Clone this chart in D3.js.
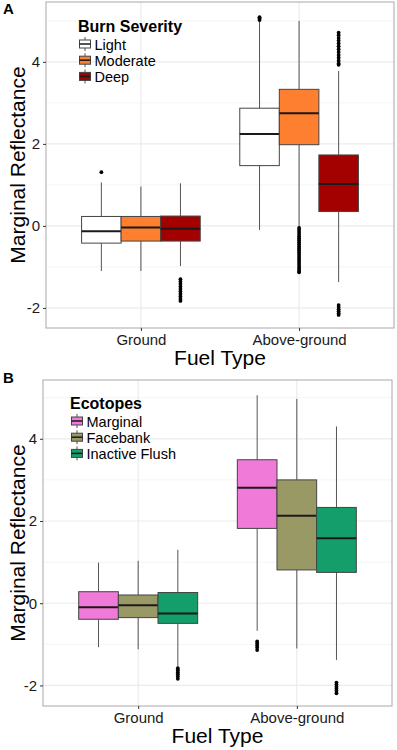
<!DOCTYPE html>
<html>
<head>
<meta charset="utf-8">
<script src="https://cdn.jsdelivr.net/npm/d3@7"></script>
<style>
  body { margin: 0; background: #fff; }
  svg { font-family: "Liberation Sans", Arial, Helvetica, sans-serif; display: block; }
</style>
</head>
<body>
<div id="chart"></div>
<script>
// Shared categories and axis ticks
const fuelTypes = ['Ground', 'Above-ground'];
const yTicks = [-2, 0, 2, 4];
const yMinor = [-1, 1, 3, 5];

// Panel A: burn severity
const burnSeverity = ['Light', 'Moderate', 'Deep'];
const burnColors = ['#ffffff', '#fd7f2f', '#a30000'];
// rows = fuel type, columns = severity
const burnLow    = [[-1.10, -1.10, -0.98], [-0.10, -0.02, -1.37]];
const burnQ1     = [[-0.42, -0.37, -0.37], [1.47, 1.98, 0.35]];
const burnMedian = [[-0.13, -0.04, -0.07], [2.24, 2.75, 1.02]];
const burnQ3     = [[0.23, 0.23, 0.24], [2.87, 3.33, 1.73]];
const burnHigh   = [[1.06, 0.96, 1.04], [4.98, 5.00, 3.78]];
const burnOutliers = [
  [[1.31], [], [-1.30, -1.36, -1.42, -1.48, -1.54, -1.60, -1.66, -1.72, -1.78, -1.83]],
  [[5.02, 5.06, 5.09],
   [-0.05, -0.10, -0.15, -0.20, -0.25, -0.30, -0.35, -0.40, -0.45, -0.50, -0.55, -0.60,
    -0.65, -0.70, -0.75, -0.80, -0.85, -0.90, -0.95, -1.00, -1.05, -1.10, -1.13],
   [4.71, 4.65, 4.58, 4.52, 4.45, 4.38, 4.31, 4.24, 4.17, 4.10, 4.03, 3.96, 3.93,
    -1.93, -1.98, -2.03, -2.08, -2.13, -2.17]]
];

// Panel B: ecotopes
const ecotopes = ['Marginal', 'Facebank', 'Inactive Flush'];
const ecoColors = ['#f07ad8', '#999966', '#149e6b'];
const ecoLow    = [[-1.07, -1.12, -1.54], [-0.67, -1.10, -1.38]];
const ecoQ1     = [[-0.39, -0.35, -0.49], [1.82, 0.81, 0.75]];
const ecoMedian = [[-0.10, -0.05, -0.25], [2.81, 2.13, 1.58]];
const ecoQ3     = [[0.28, 0.20, 0.26], [3.49, 3.00, 2.33]];
const ecoHigh   = [[0.99, 1.03, 1.30], [5.06, 4.97, 4.30]];
const ecoOutliers = [
  [[], [], [-1.58, -1.63, -1.68, -1.73, -1.78, -1.84]],
  [[-0.93, -0.98, -1.03, -1.08, -1.14], [], [-1.93, -1.98, -2.03, -2.08, -2.13, -2.19]]
];

const svg = d3.select('#chart').append('svg')
  .attr('width', 397)
  .attr('height', 750);

function drawPanel(p) {
  const x = d3.scalePoint().domain(fuelTypes).range([p.left, p.right]).padding(0.6);
  const y = d3.scaleLinear().domain(p.yDomain).range([p.bottom, p.top]);
  const groups = p.groups;
  const boxW = x.step() * 0.75 / groups.length;
  const g = svg.append('g');

  // Grid
  g.selectAll('.minor').data(yMinor).enter().append('line')
    .attr('x1', p.left).attr('x2', p.right)
    .attr('y1', d => y(d)).attr('y2', d => y(d))
    .attr('stroke', '#f4f4f4').attr('stroke-width', 1);
  g.selectAll('.major').data(yTicks).enter().append('line')
    .attr('x1', p.left).attr('x2', p.right)
    .attr('y1', d => y(d)).attr('y2', d => y(d))
    .attr('stroke', '#ebebeb').attr('stroke-width', 1.2);
  g.selectAll('.vmajor').data(fuelTypes).enter().append('line')
    .attr('x1', d => x(d)).attr('x2', d => x(d))
    .attr('y1', p.top).attr('y2', p.bottom)
    .attr('stroke', '#ebebeb').attr('stroke-width', 1.2);

  // Boxes
  const boxes = [];
  fuelTypes.forEach((f, i) => {
    groups.forEach((s, j) => {
      boxes.push({
        cx: x(f) + (j - (groups.length - 1) / 2) * boxW,
        color: p.colors[j],
        low: p.low[i][j], q1: p.q1[i][j], med: p.median[i][j],
        q3: p.q3[i][j], high: p.high[i][j], out: p.outliers[i][j]
      });
    });
  });

  const bx = g.selectAll('.box').data(boxes).enter().append('g');
  bx.append('line')
    .attr('x1', d => d.cx).attr('x2', d => d.cx)
    .attr('y1', d => y(d.high)).attr('y2', d => y(d.q3))
    .attr('stroke', '#555').attr('stroke-width', 1);
  bx.append('line')
    .attr('x1', d => d.cx).attr('x2', d => d.cx)
    .attr('y1', d => y(d.q1)).attr('y2', d => y(d.low))
    .attr('stroke', '#555').attr('stroke-width', 1);
  bx.append('rect')
    .attr('x', d => d.cx - boxW / 2).attr('width', boxW)
    .attr('y', d => y(d.q3)).attr('height', d => y(d.q1) - y(d.q3))
    .attr('fill', d => d.color)
    .attr('stroke', '#444').attr('stroke-width', 1);
  bx.append('line')
    .attr('x1', d => d.cx - boxW / 2).attr('x2', d => d.cx + boxW / 2)
    .attr('y1', d => y(d.med)).attr('y2', d => y(d.med))
    .attr('stroke', '#1a1a1a').attr('stroke-width', 2);
  bx.selectAll('circle').data(d => d.out.map(v => ({ cx: d.cx, v }))).enter().append('circle')
    .attr('cx', d => d.cx).attr('cy', d => y(d.v))
    .attr('r', 1.9).attr('fill', '#000');

  // Border
  g.append('rect')
    .attr('x', p.left).attr('y', p.top)
    .attr('width', p.right - p.left).attr('height', p.bottom - p.top)
    .attr('fill', 'none').attr('stroke', '#a8a8a8').attr('stroke-width', 1);

  // Axes
  const yAxis = g.append('g')
    .attr('transform', `translate(${p.left},0)`)
    .call(d3.axisLeft(y).tickValues(yTicks).tickSize(3).tickPadding(3).tickFormat(d3.format('d')));
  yAxis.select('.domain').remove();
  yAxis.selectAll('line').attr('stroke', '#333');
  yAxis.selectAll('text').attr('font-size', 15).attr('fill', '#1a1a1a').attr('font-family', null)
    .text(d => d < 0 ? '-' + Math.abs(d) : d);

  const xAxis = g.append('g')
    .attr('transform', `translate(0,${p.bottom})`)
    .call(d3.axisBottom(x).tickSize(3).tickPadding(3));
  xAxis.select('.domain').remove();
  xAxis.selectAll('line').attr('stroke', '#333');
  xAxis.selectAll('text').attr('font-size', 15).attr('fill', '#1a1a1a').attr('font-family', null);

  // Titles
  g.append('text')
    .attr('x', (p.left + p.right) / 2).attr('y', p.bottom + 37)
    .attr('text-anchor', 'middle').attr('font-size', 21)
    .text('Fuel Type');
  g.append('text')
    .attr('transform', `translate(25,${(p.top + p.bottom) / 2}) rotate(-90)`)
    .attr('text-anchor', 'middle').attr('font-size', 21)
    .text('Marginal Reflectance');
  g.append('text')
    .attr('x', 3).attr('y', p.tag.y)
    .attr('font-size', 15).attr('font-weight', 'bold')
    .text(p.tag.label);

  // Legend
  const lg = g.append('g').attr('transform', `translate(${p.legend.x},${p.legend.y})`);
  lg.append('text')
    .attr('x', 0).attr('y', 0)
    .attr('font-size', 16).attr('font-weight', 'bold')
    .text(p.legend.title);
  const items = lg.selectAll('.item').data(groups).enter().append('g')
    .attr('transform', (d, i) => `translate(0,${12 + i * 16.2})`);
  items.append('line')
    .attr('x1', 7).attr('x2', 7).attr('y1', -7).attr('y2', 7)
    .attr('stroke', '#555');
  items.append('rect')
    .attr('x', 1.5).attr('y', -4).attr('width', 11).attr('height', 8)
    .attr('fill', (d, i) => p.colors[i])
    .attr('stroke', '#444').attr('stroke-width', 1);
  items.append('line')
    .attr('x1', 1.5).attr('x2', 12.5).attr('y1', 0).attr('y2', 0)
    .attr('stroke', '#1a1a1a').attr('stroke-width', 1.5);
  items.append('text')
    .attr('x', 16.5).attr('y', 5.5)
    .attr('font-size', 14.5)
    .text(d => d);
}

drawPanel({
  left: 46, right: 394, top: 2, bottom: 328,
  yDomain: [-2.49, 5.46],
  groups: burnSeverity, colors: burnColors,
  low: burnLow, q1: burnQ1, median: burnMedian, q3: burnQ3, high: burnHigh,
  outliers: burnOutliers,
  tag: { label: 'A', y: 14 },
  legend: { x: 78, y: 32, title: 'Burn Severity' }
});

drawPanel({
  left: 43, right: 392, top: 380, bottom: 706,
  yDomain: [-2.5, 5.43],
  groups: ecotopes, colors: ecoColors,
  low: ecoLow, q1: ecoQ1, median: ecoMedian, q3: ecoQ3, high: ecoHigh,
  outliers: ecoOutliers,
  tag: { label: 'B', y: 383 },
  legend: { x: 70, y: 409, title: 'Ecotopes' }
});
</script>
</body>
</html>
